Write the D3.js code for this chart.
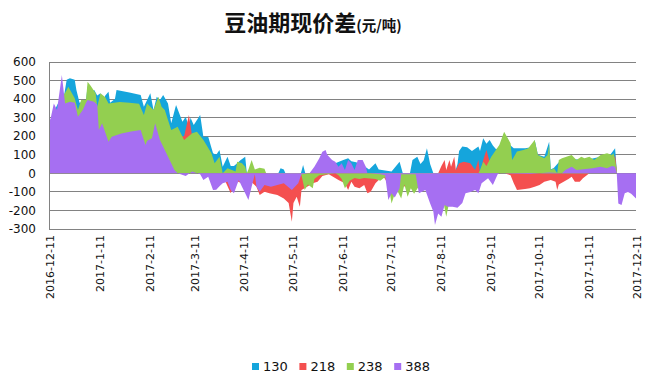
<!DOCTYPE html>
<html>
<head>
<meta charset="utf-8">
<script src="https://cdn.jsdelivr.net/npm/d3@7"></script>
<style>
  body { margin: 0; background: #fff; }
  svg { display: block; }
</style>
</head>
<body>
<svg id="chart"></svg>
<script>
// legend names and colours, in drawing order (first one sits at the back)
const seriesNames = ["130", "218", "238", "388"];
const seriesColors = ["#15a5dc", "#f44f4f", "#93cf50", "#a66ff2"];

const yTicks = [-300, -200, -100, 0, 100, 200, 300, 400, 500, 600];
const xTickLabels = ["2016-12-11", "2017-1-11", "2017-2-11", "2017-3-11", "2017-4-11", "2017-5-11",
    "2017-6-11", "2017-7-11", "2017-8-11", "2017-9-11", "2017-10-11", "2017-11-11", "2017-12-11"];

// spread values, [date, yuan/ton]
const s130 = [["2016-12-11",230],["2016-12-15",350],["2016-12-18",400],["2016-12-20",400],["2016-12-22",505],["2016-12-24",512],["2016-12-27",505],["2016-12-28",450],["2016-12-30",380],["2017-01-03",390],["2017-01-04",470],["2017-01-06",430],["2017-01-08",450],["2017-01-10",420],["2017-01-12",431],["2017-01-13",380],["2017-01-15",420],["2017-01-17",440],["2017-01-18",380],["2017-01-21",400],["2017-01-22",449],["2017-01-30",435],["2017-02-06",422],["2017-02-08",359],["2017-02-12",431],["2017-02-14",341],["2017-02-16",413],["2017-02-18",395],["2017-02-20",422],["2017-02-23",377],["2017-02-25",270],["2017-02-28",368],["2017-03-04",278],["2017-03-06",305],["2017-03-08",251],["2017-03-09",300],["2017-03-11",260],["2017-03-15",314],["2017-03-17",197],["2017-03-20",197],["2017-03-23",108],["2017-03-25",100],["2017-03-27",126],["2017-03-29",36],["2017-04-01",90],["2017-04-03",40],["2017-04-05",40],["2017-04-07",54],["2017-04-09",70],["2017-04-12",90],["2017-04-13",0],["2017-04-15",-30],["2017-04-21",-50],["2017-04-27",-40],["2017-05-02",-10],["2017-05-04",27],["2017-05-06",20],["2017-05-08",-20],["2017-05-13",-60],["2017-05-16",-20],["2017-05-18",45],["2017-05-20",-20],["2017-05-24",-30],["2017-05-27",10],["2017-06-01",60],["2017-06-07",55],["2017-06-12",72],["2017-06-15",81],["2017-06-17",65],["2017-06-20",60],["2017-06-22",50],["2017-06-25",40],["2017-06-28",20],["2017-07-02",54],["2017-07-04",20],["2017-07-08",15],["2017-07-12",10],["2017-07-17",63],["2017-07-19",0],["2017-07-20",-50],["2017-07-23",-20],["2017-07-25",72],["2017-07-28",90],["2017-07-30",50],["2017-08-01",70],["2017-08-03",135],["2017-08-05",50],["2017-08-07",0],["2017-08-10",-50],["2017-08-14",-100],["2017-08-18",-60],["2017-08-22",50],["2017-08-23",120],["2017-08-25",144],["2017-08-28",140],["2017-08-31",120],["2017-09-04",144],["2017-09-05",120],["2017-09-07",189],["2017-09-09",160],["2017-09-11",180],["2017-09-13",150],["2017-09-15",130],["2017-09-17",140],["2017-09-20",216],["2017-09-22",190],["2017-09-24",150],["2017-09-26",135],["2017-10-03",135],["2017-10-07",140],["2017-10-09",180],["2017-10-11",100],["2017-10-15",90],["2017-10-18",170],["2017-10-19",20],["2017-10-21",30],["2017-10-24",60],["2017-10-30",80],["2017-11-09",70],["2017-11-19",90],["2017-11-25",100],["2017-11-28",135],["2017-11-29",20]];

const s218 = [["2016-12-11",200],["2016-12-19",300],["2016-12-30",300],["2017-01-10",300],["2017-01-24",300],["2017-02-08",280],["2017-02-18",300],["2017-02-27",200],["2017-03-05",200],["2017-03-08",314],["2017-03-10",200],["2017-03-15",150],["2017-03-21",80],["2017-03-27",20],["2017-03-30",-30],["2017-04-03",-108],["2017-04-06",-40],["2017-04-12",-60],["2017-04-15",-40],["2017-04-19",-72],["2017-04-21",-117],["2017-04-24",-99],["2017-04-27",-108],["2017-05-02",-117],["2017-05-06",-135],["2017-05-09",-160],["2017-05-11",-261],["2017-05-12",-160],["2017-05-14",-126],["2017-05-16",-180],["2017-05-17",-90],["2017-05-21",-70],["2017-05-24",-54],["2017-05-27",-45],["2017-05-30",-15],["2017-06-03",-5],["2017-06-09",-36],["2017-06-13",-54],["2017-06-15",-90],["2017-06-17",-45],["2017-06-19",-72],["2017-06-22",-81],["2017-06-25",-63],["2017-06-27",-108],["2017-06-29",-99],["2017-07-02",-54],["2017-07-04",-36],["2017-07-06",-9],["2017-07-08",-30],["2017-07-11",-80],["2017-07-17",-60],["2017-07-23",-80],["2017-07-30",-40],["2017-08-05",-20],["2017-08-10",0],["2017-08-12",40],["2017-08-14",72],["2017-08-15",18],["2017-08-17",72],["2017-08-18",36],["2017-08-20",90],["2017-08-21",18],["2017-08-23",54],["2017-08-26",63],["2017-08-30",54],["2017-09-02",18],["2017-09-04",72],["2017-09-05",0],["2017-09-07",72],["2017-09-09",126],["2017-09-11",63],["2017-09-14",30],["2017-09-17",20],["2017-09-20",0],["2017-09-24",-10],["2017-09-26",-54],["2017-09-28",-90],["2017-10-03",-85],["2017-10-06",-80],["2017-10-09",-72],["2017-10-12",-63],["2017-10-15",-45],["2017-10-19",-36],["2017-10-22",-45],["2017-10-23",-90],["2017-10-24",-60],["2017-10-27",-45],["2017-10-30",-30],["2017-11-01",-18],["2017-11-03",-45],["2017-11-06",-45],["2017-11-08",-27],["2017-11-12",0],["2017-11-19",20],["2017-11-25",40],["2017-11-27",70],["2017-11-28",99],["2017-11-29",20]];

const s238 = [["2016-12-11",250],["2016-12-15",300],["2016-12-18",350],["2016-12-20",420],["2016-12-22",449],["2016-12-23",467],["2016-12-27",404],["2016-12-29",341],["2016-12-31",395],["2017-01-03",395],["2017-01-04",494],["2017-01-06",470],["2017-01-09",431],["2017-01-10",359],["2017-01-12",431],["2017-01-15",410],["2017-01-17",377],["2017-01-24",385],["2017-01-30",380],["2017-02-05",375],["2017-02-08",314],["2017-02-10",377],["2017-02-14",341],["2017-02-17",413],["2017-02-19",359],["2017-02-21",341],["2017-02-25",233],["2017-03-01",251],["2017-03-05",180],["2017-03-10",216],["2017-03-13",224],["2017-03-17",180],["2017-03-22",108],["2017-03-24",54],["2017-03-27",90],["2017-03-29",0],["2017-04-01",27],["2017-04-06",10],["2017-04-07",63],["2017-04-10",54],["2017-04-12",36],["2017-04-13",0],["2017-04-14",20],["2017-04-16",72],["2017-04-18",20],["2017-04-21",30],["2017-04-24",25],["2017-04-25",0],["2017-04-28",-40],["2017-05-10",-40],["2017-05-17",-10],["2017-05-19",-90],["2017-05-21",-60],["2017-05-24",-81],["2017-05-25",-30],["2017-05-28",-10],["2017-06-07",0],["2017-06-09",-10],["2017-06-11",-30],["2017-06-13",-80],["2017-06-16",-40],["2017-06-19",-25],["2017-06-22",-30],["2017-06-25",-25],["2017-07-02",-30],["2017-07-05",-40],["2017-07-08",-20],["2017-07-10",-60],["2017-07-12",-162],["2017-07-14",-110],["2017-07-16",-100],["2017-07-18",-135],["2017-07-20",-60],["2017-07-22",-126],["2017-07-24",-80],["2017-07-26",-110],["2017-07-29",-70],["2017-07-31",-20],["2017-08-05",-5],["2017-08-11",-50],["2017-08-15",-234],["2017-08-17",-150],["2017-08-20",-100],["2017-08-23",-60],["2017-08-30",-20],["2017-09-04",0],["2017-09-05",18],["2017-09-07",63],["2017-09-09",40],["2017-09-12",90],["2017-09-17",153],["2017-09-20",224],["2017-09-24",162],["2017-09-25",72],["2017-09-28",117],["2017-10-02",126],["2017-10-05",135],["2017-10-09",180],["2017-10-11",99],["2017-10-15",81],["2017-10-17",99],["2017-10-18",153],["2017-10-19",18],["2017-10-21",27],["2017-10-23",0],["2017-10-24",72],["2017-10-26",81],["2017-11-01",99],["2017-11-04",72],["2017-11-07",90],["2017-11-09",81],["2017-11-12",90],["2017-11-15",72],["2017-11-19",99],["2017-11-23",108],["2017-11-26",99],["2017-11-27",108],["2017-11-28",72],["2017-11-29",18]];

const s388 = [["2016-12-11",280],["2016-12-12",296],["2016-12-14",377],["2016-12-16",341],["2016-12-19",530],["2016-12-21",377],["2016-12-24",386],["2016-12-27",380],["2016-12-29",305],["2017-01-01",341],["2017-01-03",380],["2017-01-04",395],["2017-01-08",386],["2017-01-10",370],["2017-01-11",233],["2017-01-13",270],["2017-01-17",170],["2017-01-19",197],["2017-01-25",215],["2017-01-31",225],["2017-02-06",233],["2017-02-09",153],["2017-02-10",175],["2017-02-13",189],["2017-02-15",270],["2017-02-18",180],["2017-02-21",126],["2017-02-24",72],["2017-02-27",18],["2017-03-01",0],["2017-03-06",-15],["2017-03-10",10],["2017-03-15",-5],["2017-03-17",-36],["2017-03-20",-18],["2017-03-23",-90],["2017-03-25",-88],["2017-03-27",-70],["2017-03-29",-54],["2017-04-01",-45],["2017-04-03",-90],["2017-04-05",-108],["2017-04-08",-36],["2017-04-10",-72],["2017-04-12",-108],["2017-04-14",-144],["2017-04-16",-72],["2017-04-18",-5],["2017-04-19",-72],["2017-04-21",-99],["2017-04-24",-63],["2017-04-28",-72],["2017-05-02",-63],["2017-05-06",-54],["2017-05-11",-90],["2017-05-15",-54],["2017-05-17",-5],["2017-05-22",0],["2017-05-25",36],["2017-05-28",80],["2017-05-30",116],["2017-06-01",126],["2017-06-02",100],["2017-06-05",72],["2017-06-07",63],["2017-06-09",36],["2017-06-11",54],["2017-06-13",18],["2017-06-15",72],["2017-06-17",54],["2017-06-19",18],["2017-06-21",72],["2017-06-24",72],["2017-06-26",36],["2017-06-27",0],["2017-07-05",-5],["2017-07-08",-10],["2017-07-10",-144],["2017-07-12",-108],["2017-07-14",-130],["2017-07-17",-80],["2017-07-18",-5],["2017-07-27",-5],["2017-07-29",-108],["2017-08-02",-90],["2017-08-05",-162],["2017-08-07",-207],["2017-08-08",-279],["2017-08-10",-216],["2017-08-12",-234],["2017-08-14",-171],["2017-08-16",-180],["2017-08-19",-180],["2017-08-22",-185],["2017-08-25",-160],["2017-08-27",-108],["2017-08-30",-100],["2017-09-02",-90],["2017-09-04",-108],["2017-09-06",-54],["2017-09-10",-27],["2017-09-13",-63],["2017-09-16",-5],["2017-09-17",0],["2017-10-06",-3],["2017-10-18",5],["2017-10-26",0],["2017-10-28",18],["2017-11-01",36],["2017-11-04",18],["2017-11-07",20],["2017-11-14",27],["2017-11-19",36],["2017-11-23",27],["2017-11-26",40],["2017-11-28",36],["2017-11-29",5],["2017-11-30",-162],["2017-12-02",-170],["2017-12-04",-108],["2017-12-06",-100],["2017-12-08",-110],["2017-12-11",-135]];

const seriesData = [s130, s218, s238, s388];

const width = 653, height = 389;
const plot = { left: 49, right: 636, top: 62, bottom: 229 };
const parseDate = d3.timeParse("%Y-%m-%d");

const svg = d3.select("#chart").attr("width", width).attr("height", height);

const x = d3.scaleTime()
    .domain([parseDate(xTickLabels[0]), parseDate(xTickLabels[xTickLabels.length - 1])])
    .range([plot.left, plot.right]);
const y = d3.scaleLinear()
    .domain([yTicks[0], yTicks[yTicks.length - 1]])
    .range([plot.bottom, plot.top]);

// title
const title = svg.append("text")
    .attr("x", 313)
    .attr("y", 31)
    .attr("text-anchor", "middle")
    .attr("font-family", "'Noto Sans CJK SC', sans-serif")
    .attr("font-weight", "bold")
    .attr("fill", "#111");
title.append("tspan").attr("font-size", 22).text("豆油期现价差");
title.append("tspan").attr("font-size", 14.5).text("(元/吨)");

// horizontal gridlines behind the areas
svg.append("g")
    .attr("stroke", "#828282")
    .attr("shape-rendering", "crispEdges")
    .selectAll("line")
    .data(yTicks)
    .join("line")
    .attr("x1", plot.left)
    .attr("x2", plot.right)
    .attr("y1", d => y(d))
    .attr("y2", d => y(d));

// areas, each filled from zero
const area = d3.area()
    .x(d => x(parseDate(d[0])))
    .y0(y(0))
    .y1(d => y(d[1]));

svg.append("g")
    .selectAll("path")
    .data(seriesData)
    .join("path")
    .attr("fill", (d, i) => seriesColors[i])
    .attr("d", area);

// left axis line
svg.append("line")
    .attr("x1", plot.left).attr("x2", plot.left)
    .attr("y1", plot.top).attr("y2", plot.bottom)
    .attr("stroke", "#828282")
    .attr("shape-rendering", "crispEdges");

// y labels
svg.append("g")
    .selectAll("text")
    .data(yTicks)
    .join("text")
    .attr("x", 36)
    .attr("y", d => y(d))
    .attr("dy", "0.35em")
    .attr("text-anchor", "end")
    .attr("font-family", "'DejaVu Sans', sans-serif")
    .attr("font-size", 12)
    .attr("fill", "#111")
    .text(d => d);

// x labels, rotated
svg.append("g")
    .selectAll("text")
    .data(xTickLabels)
    .join("text")
    .attr("transform", d => `translate(${x(parseDate(d)) + 1},235) rotate(-90)`)
    .attr("dy", "0.35em")
    .attr("text-anchor", "end")
    .attr("font-family", "'DejaVu Sans', sans-serif")
    .attr("font-size", 11)
    .attr("fill", "#111")
    .text(d => d);

// legend
const legend = svg.append("g")
    .selectAll("g")
    .data(seriesNames)
    .join("g")
    .attr("transform", (d, i) => `translate(${252 + i * 47.4},363)`);

legend.append("rect")
    .attr("width", 7)
    .attr("height", 7)
    .attr("fill", (d, i) => seriesColors[i]);

legend.append("text")
    .attr("x", 11)
    .attr("y", 3.5)
    .attr("dy", "0.35em")
    .attr("font-family", "'DejaVu Sans', sans-serif")
    .attr("font-size", 13)
    .attr("fill", "#111")
    .text(d => d);
</script>
</body>
</html>
